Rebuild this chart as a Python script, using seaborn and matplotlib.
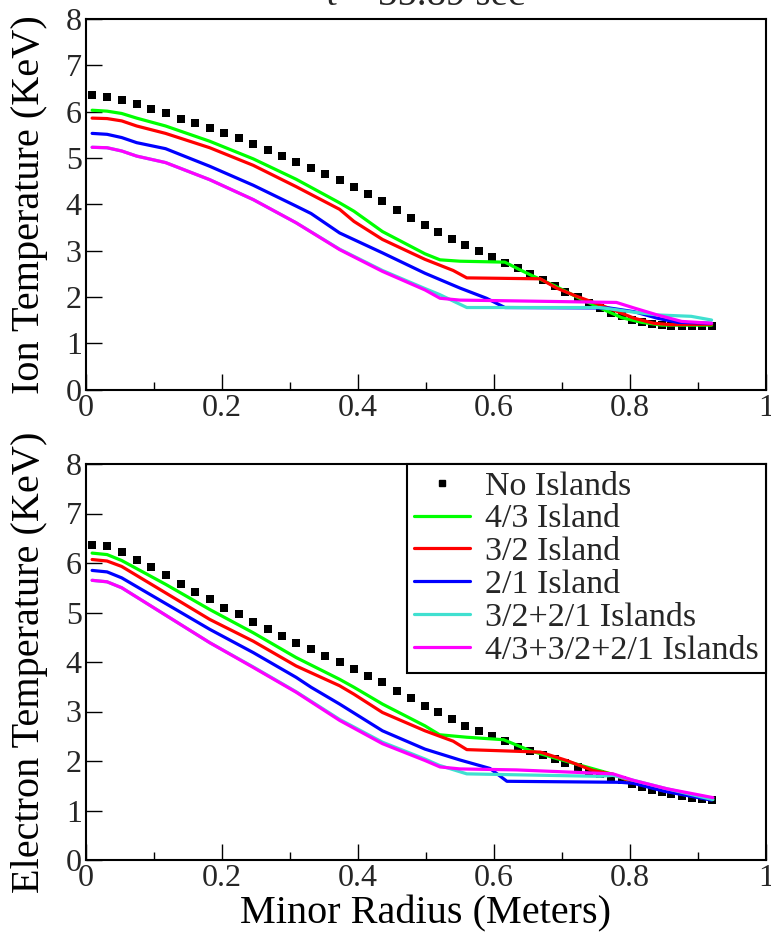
"""
Ion and electron temperature profiles with and without magnetic islands.
"""

import matplotlib
matplotlib.use('Agg')
import matplotlib.pyplot as plt
from matplotlib.ticker import MultipleLocator, FuncFormatter
from matplotlib.lines import Line2D
import seaborn as sns

# radial grid of the "No Islands" run (meters)
radius = [0.009, 0.031, 0.0525, 0.0745, 0.096, 0.117, 0.139, 0.160, 0.182, 0.203,
          0.2245, 0.246, 0.267, 0.288, 0.309, 0.331, 0.352, 0.373, 0.394, 0.415,
          0.436, 0.457, 0.478, 0.498, 0.518, 0.538, 0.558, 0.578, 0.5975, 0.616,
          0.636, 0.653, 0.6715, 0.689, 0.705, 0.723, 0.739, 0.756, 0.7725, 0.788,
          0.8025, 0.817, 0.832, 0.847, 0.861, 0.876, 0.891, 0.906, 0.92]

ion_none = [6.35, 6.32, 6.25, 6.16, 6.05, 5.96, 5.85, 5.76, 5.65, 5.53,
            5.42, 5.30, 5.18, 5.05, 4.92, 4.79, 4.66, 4.52, 4.38, 4.23,
            4.07, 3.87, 3.71, 3.55, 3.40, 3.25, 3.11, 2.99, 2.87, 2.74,
            2.62, 2.50, 2.37, 2.24, 2.10, 1.99, 1.87, 1.76, 1.66, 1.58,
            1.50, 1.45, 1.41, 1.39, 1.375, 1.375, 1.375, 1.375, 1.38]

elec_none = [6.37, 6.34, 6.22, 6.07, 5.92, 5.75, 5.58, 5.42, 5.27, 5.10,
             4.96, 4.81, 4.66, 4.53, 4.39, 4.26, 4.12, 3.99, 3.86, 3.72,
             3.59, 3.41, 3.27, 3.12, 2.98, 2.84, 2.71, 2.60, 2.50, 2.40,
             2.29, 2.21, 2.13, 2.05, 1.96, 1.88, 1.80, 1.73, 1.68, 1.61,
             1.54, 1.47, 1.42, 1.37, 1.33, 1.29, 1.25, 1.23, 1.21]

# ---- ion temperature, island runs ----
ion_43_r = [0.009, 0.031, 0.0525, 0.0745, 0.117, 0.182, 0.246, 0.309, 0.373, 0.394,
            0.436, 0.4985, 0.5206, 0.55, 0.616, 0.636, 0.653, 0.689, 0.723, 0.756,
            0.788, 0.817, 0.847, 0.92]
ion_43 = [6.03, 6.01, 5.96, 5.86, 5.69, 5.36, 4.98, 4.54, 4.03, 3.85,
          3.41, 2.93, 2.80, 2.77, 2.75, 2.60, 2.48, 2.24, 1.99, 1.76,
          1.55, 1.45, 1.39, 1.39]

ion_32_r = [0.009, 0.031, 0.0525, 0.0745, 0.117, 0.182, 0.246, 0.309, 0.373, 0.394,
            0.436, 0.4985, 0.54, 0.56, 0.668, 0.692, 0.722, 0.756, 0.782, 0.806,
            0.835, 0.86, 0.92]
ion_32 = [5.86, 5.85, 5.80, 5.69, 5.53, 5.22, 4.84, 4.38, 3.89, 3.63,
          3.24, 2.81, 2.57, 2.41, 2.39, 2.19, 2.01, 1.83, 1.68, 1.54,
          1.43, 1.40, 1.41]

ion_21_r = [0.009, 0.031, 0.0525, 0.0745, 0.117, 0.182, 0.246, 0.309, 0.331, 0.373,
            0.436, 0.4985, 0.55, 0.589, 0.616, 0.77, 0.806, 0.84, 0.87, 0.92]
ion_21 = [5.53, 5.51, 5.44, 5.33, 5.20, 4.82, 4.41, 3.96, 3.80, 3.38,
          2.95, 2.51, 2.19, 1.97, 1.77, 1.76, 1.68, 1.54, 1.45, 1.43]

ion_3221_r = [0.009, 0.031, 0.0525, 0.0745, 0.117, 0.182, 0.246, 0.309, 0.373, 0.436,
              0.4985, 0.52, 0.56, 0.756, 0.80, 0.84, 0.89, 0.92]
ion_3221 = [5.23, 5.22, 5.15, 5.04, 4.90, 4.53, 4.10, 3.60, 3.03, 2.57,
            2.18, 2.05, 1.77, 1.77, 1.68, 1.61, 1.58, 1.50]

ion_all_r = [0.009, 0.031, 0.0525, 0.0745, 0.117, 0.182, 0.246, 0.309, 0.373, 0.436,
             0.4985, 0.5206, 0.55, 0.60, 0.78, 0.806, 0.84, 0.876, 0.92]
ion_all = [5.23, 5.22, 5.15, 5.04, 4.90, 4.53, 4.10, 3.60, 3.02, 2.55,
           2.15, 1.97, 1.93, 1.92, 1.88, 1.76, 1.61, 1.47, 1.43]

# ---- electron temperature, island runs ----
elec_43_r = [0.009, 0.031, 0.0525, 0.117, 0.182, 0.246, 0.309, 0.373, 0.394, 0.436,
             0.4985, 0.52, 0.56, 0.614, 0.653, 0.692, 0.736, 0.775, 0.805, 0.85, 0.92]
elec_43 = [6.20, 6.17, 6.05, 5.57, 5.06, 4.59, 4.09, 3.65, 3.49, 3.15,
           2.71, 2.53, 2.48, 2.43, 2.21, 2.05, 1.88, 1.73, 1.57, 1.40, 1.22]

elec_32_r = [0.009, 0.031, 0.0525, 0.182, 0.246, 0.309, 0.373, 0.394, 0.436, 0.4985,
             0.54, 0.56, 0.668, 0.707, 0.745, 0.775, 0.805, 0.85, 0.92]
elec_32 = [6.07, 6.04, 5.93, 4.86, 4.42, 3.92, 3.52, 3.35, 2.98, 2.61,
           2.40, 2.23, 2.18, 2.01, 1.81, 1.73, 1.57, 1.40, 1.22]

elec_21_r = [0.009, 0.031, 0.0525, 0.182, 0.246, 0.309, 0.331, 0.373, 0.436, 0.4985,
             0.55, 0.594, 0.619, 0.785, 0.805, 0.85, 0.92]
elec_21 = [5.85, 5.82, 5.70, 4.66, 4.19, 3.69, 3.49, 3.15, 2.61, 2.24,
           2.02, 1.85, 1.59, 1.57, 1.55, 1.39, 1.21]

elec_3221_r = [0.009, 0.031, 0.0525, 0.182, 0.246, 0.309, 0.373, 0.436, 0.4985, 0.52,
               0.56, 0.756, 0.775, 0.805, 0.854, 0.922]
elec_3221 = [5.65, 5.62, 5.50, 4.39, 3.90, 3.40, 2.84, 2.38, 2.04, 1.91,
             1.74, 1.69, 1.71, 1.61, 1.44, 1.22]

elec_all_r = [0.009, 0.031, 0.0525, 0.182, 0.246, 0.309, 0.373, 0.436, 0.4985, 0.5206,
              0.55, 0.633, 0.775, 0.805, 0.854, 0.922]
elec_all = [5.65, 5.62, 5.50, 4.39, 3.89, 3.39, 2.82, 2.35, 2.01, 1.88,
            1.84, 1.82, 1.74, 1.61, 1.44, 1.26]

labels = ['No Islands', '4/3 Island', '3/2 Island', '2/1 Island',
          '3/2+2/1 Islands', '4/3+3/2+2/1 Islands']
colors = ['black', '#00ff00', '#ff0000', '#0000ff', '#40e0d0', '#ff00ff']

sns.set_theme(style='ticks')
plt.rcParams['font.family'] = ['Liberation Serif', 'DejaVu Serif']

W, H = 771, 936
fig = plt.figure(figsize=(W / 100, H / 100), dpi=100)
fig.patch.set_facecolor('white')

ax_ion = fig.add_axes([86 / W, 1 - 389.5 / H, 680 / W, 370.5 / H])
ax_el = fig.add_axes([86 / W, 1 - 860 / H, 680 / W, 396 / H])


def draw_panel(ax, none_vals, runs):
    sns.scatterplot(x=radius, y=none_vals, marker='s', color='black', s=30,
                    linewidth=0, ax=ax, zorder=2)
    for (xs, ys), c in zip(runs, colors[1:]):
        sns.lineplot(x=xs, y=ys, color=c, linewidth=2.3, sort=False,
                     estimator=None, ax=ax, zorder=3)

    ax.set_xlim(0, 1)
    ax.set_ylim(0, 8)
    ax.set_facecolor('white')
    ax.xaxis.set_major_locator(MultipleLocator(0.2))
    ax.xaxis.set_minor_locator(MultipleLocator(0.1))
    ax.yaxis.set_major_locator(MultipleLocator(1))
    ax.xaxis.set_major_formatter(FuncFormatter(lambda v, p: f'{v:g}'))
    ax.tick_params(which='both', direction='in', top=False, right=False,
                   width=1.0, color='black', labelsize=23, pad=3)
    ax.tick_params(which='major', length=11.5)
    ax.tick_params(which='minor', length=5.8)
    ax.tick_params(axis='y', which='minor', left=False)
    for sp in ax.spines.values():
        sp.set_visible(True)
        sp.set_color('black')
        sp.set_linewidth(1.5)
    ax.grid(False)


draw_panel(ax_ion, ion_none, [(ion_43_r, ion_43), (ion_32_r, ion_32),
                              (ion_21_r, ion_21), (ion_3221_r, ion_3221),
                              (ion_all_r, ion_all)])
draw_panel(ax_el, elec_none, [(elec_43_r, elec_43), (elec_32_r, elec_32),
                              (elec_21_r, elec_21), (elec_3221_r, elec_3221),
                              (elec_all_r, elec_all)])

ax_ion.set_xlabel('')
ax_ion.set_ylabel('Ion Temperature (KeV)', fontsize=29, color='black')
ax_ion.yaxis.set_label_coords(-0.056, 0.5)
ax_el.set_ylabel('Electron Temperature (KeV)', fontsize=29, color='black')
ax_el.yaxis.set_label_coords(-0.056, 0.5)
ax_el.set_xlabel('Minor Radius (Meters)', fontsize=29, color='black')
ax_el.xaxis.set_label_coords(0.5, -0.088)

# title sits partly above the canvas, as in the source figure
fig.text((86 + 340) / W, 1 - 5 / H, 't = 35.89 sec', fontsize=28,
         ha='center', va='baseline')

handles = [Line2D([], [], marker='s', linestyle='none', color='black',
                  markersize=5.0)]
handles += [Line2D([], [], color=c, linewidth=2.3) for c in colors[1:]]
leg = ax_el.legend(handles, labels, loc='upper right', bbox_to_anchor=(1.0, 1.0),
                   borderaxespad=0, fontsize=24.5, frameon=True, fancybox=False,
                   handlelength=1.65, handletextpad=0.45, labelspacing=0.06,
                   borderpad=0.2)
leg.get_frame().set_edgecolor('black')
leg.get_frame().set_linewidth(1.5)
leg.get_frame().set_alpha(1)

fig.savefig('out.png', dpi=100, facecolor='white')
